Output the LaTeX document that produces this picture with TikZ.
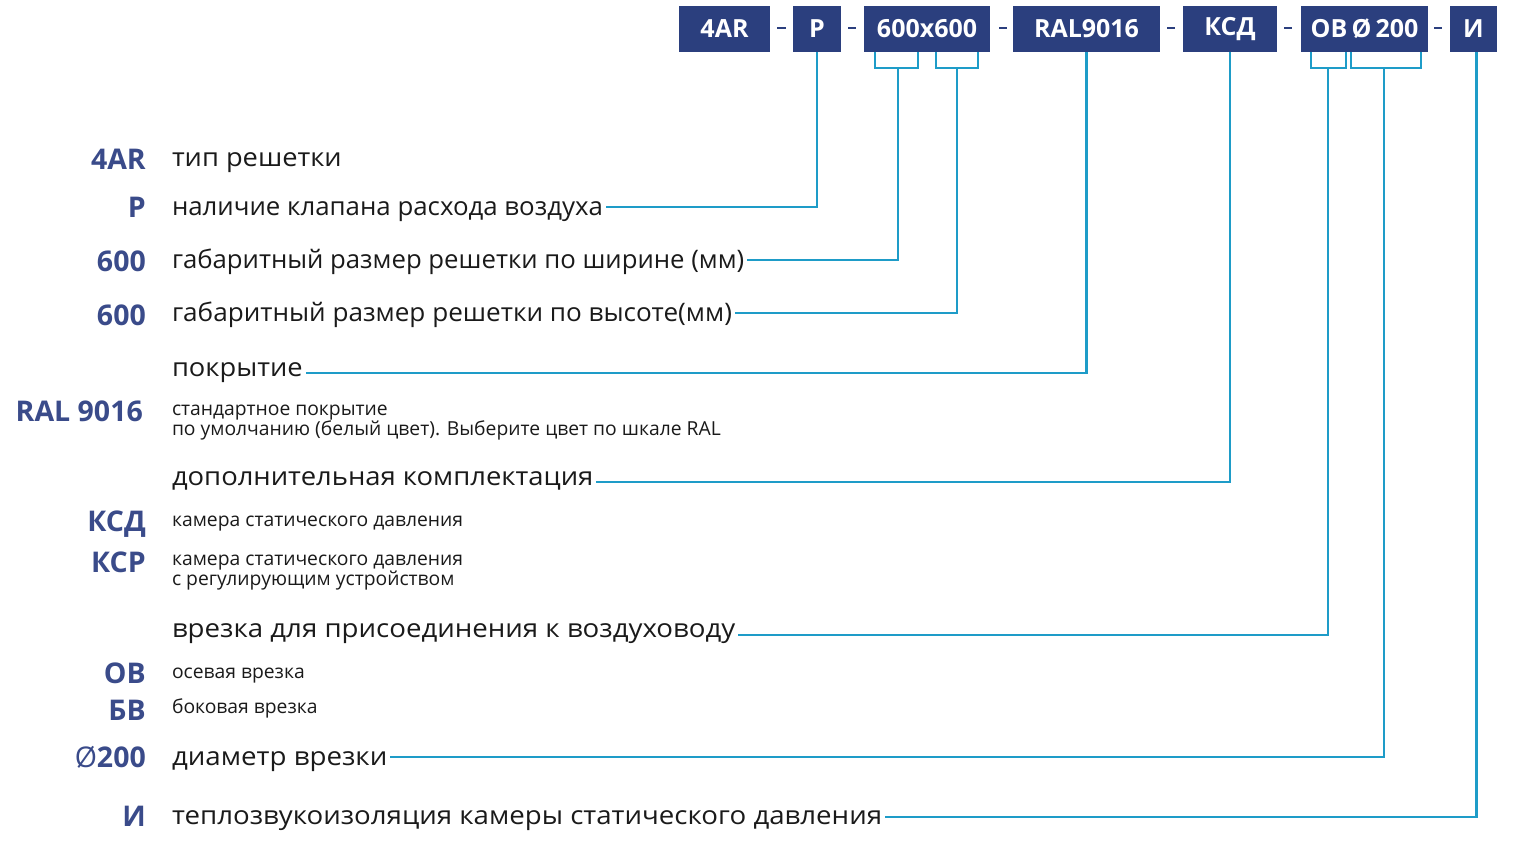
\documentclass[tikz,border=0pt]{standalone}
\usepackage{fontspec}
\usepackage{graphicx}
\setmainfont{Open Sans}
\definecolor{navy}{HTML}{2B3F7E}
\definecolor{codec}{HTML}{3A4B8A}
\definecolor{conn}{HTML}{1E9CC8}
\definecolor{txt}{HTML}{1A1A1A}
\newcommand{\xstr}[2]{\scalebox{#1}[1]{#2}}
\begin{document}
\begin{tikzpicture}[x=1pt,y=-1pt,
  codebox/.style={fill=navy, text=white, font=\bfseries\fontsize{25}{28}\selectfont,
    minimum height=46, inner sep=0, anchor=north west, outer sep=0},
  dashmark/.style={navy, line width=2.5},
  connline/.style={conn, line width=2.8},
  lcode/.style={text=codec, font=\bfseries\fontsize{28.5}{32}\selectfont, anchor=east,
    inner sep=0, text height=20.3pt, text depth=0pt},
  bigdesc/.style={text=txt, font=\fontsize{25.5}{30}\selectfont, anchor=west,
    inner xsep=3, inner ysep=0, text height=17.6pt, text depth=0pt, outer sep=0},
  smalldesc/.style={text=txt, font=\fontsize{19.3}{22}\selectfont, anchor=west,
    inner xsep=3, inner ysep=0, text height=14.2pt, text depth=0pt, outer sep=0}]
\useasboundingbox (0,0) rectangle (1536,855);
\fill[white] (0,0) rectangle (1536,855);

% top code boxes
\node[codebox, minimum width=91] (b1) at (679,6) {4AR};
\node[codebox, minimum width=48] (b2) at (793,6) {Р};
\node[codebox, minimum width=126] (b3) at (864,6) {600x600};
\node[codebox, minimum width=147] (b4) at (1013,6) {RAL9016};
\node[codebox, minimum width=94] (b5) at (1183,6) {КСД};
\node[codebox, minimum width=127] (b6) at (1301,6) {ОВ\,Ø\,200};
\node[codebox, minimum width=47] (b7) at (1450,6) {И};

% dashes
\draw[dashmark] (777,28) -- (786,28);
\draw[dashmark] (848,28) -- (856,28);
\draw[dashmark] (999,28) -- (1007,28);
\draw[dashmark] (1167,28) -- (1175,28);
\draw[dashmark] (1284,28) -- (1292,28);
\draw[dashmark] (1434,28) -- (1442,28);

% left codes
\node[lcode] (c1) at (146,159) {4AR};
\node[lcode] (c2) at (146,207) {Р};
\node[lcode] (c3) at (146,261) {600};
\node[lcode] (c4) at (146,315) {600};
\node[lcode] (c5) at (143,411) {RAL 9016};
\node[lcode] (c6) at (146,521) {КСД};
\node[lcode] (c7) at (146,562) {КСР};
\node[lcode] (c8) at (146,673) {ОВ};
\node[lcode] (c9) at (146,710) {БВ};
\node[lcode] (c10) at (146,757) {{\mdseries Ø}200};
\node[lcode] (c11) at (146,816) {И};

% descriptions
\node[bigdesc] (dT) at (169,158) {\xstr{1.069}{тип решетки}};
\node[bigdesc] (dP) at (169,207) {\xstr{1.013}{наличие клапана расхода воздуха}};
\node[bigdesc] (dW) at (169,260) {\xstr{1.009}{габаритный размер решетки по ширине (мм)}};
\node[bigdesc] (dH) at (169,313) {\xstr{1.024}{габаритный размер решетки по высоте(мм)}};
\node[bigdesc] (dCov) at (169,368) {\xstr{1.07}{покрытие}};
\node[smalldesc] (sR1) at (169,408) {стандартное покрытие};
\node[smalldesc] (sR2) at (169,428) {по умолчанию (белый цвет). Выберите цвет по шкале RAL};
\node[bigdesc] (dAdd) at (169,477) {\xstr{1.075}{дополнительная комплектация}};
\node[smalldesc] (sK1) at (169,519) {камера статического давления};
\node[smalldesc] (sK2) at (169,558) {камера статического давления};
\node[smalldesc] (sK3) at (169,578) {с регулирующим устройством};
\node[bigdesc] (dCon) at (169,629) {\xstr{1.084}{врезка для присоединения к воздуховоду}};
\node[smalldesc] (sO1) at (169,671) {осевая врезка};
\node[smalldesc] (sO2) at (169,706) {боковая врезка};
\node[bigdesc] (dDia) at (169,757) {\xstr{1.086}{диаметр врезки}};
\node[bigdesc] (dIso) at (169,816) {\xstr{1.084}{теплозвукоизоляция камеры статического давления}};

% brackets
\coordinate (w1) at (875,52);
\coordinate (w2) at (918,52);
\coordinate (ws) at (898,68);
\coordinate (h1) at (936,52);
\coordinate (h2) at (978,52);
\coordinate (hs) at (957,68);
\coordinate (o1) at (1311,52);
\coordinate (o2) at (1346,52);
\coordinate (os) at (1328,68);
\coordinate (d1) at (1351,52);
\coordinate (d2) at (1421,52);
\coordinate (ds) at (1384,68);
\draw[connline] (w1) |- (ws) -| (w2);
\draw[connline] (h1) |- (hs) -| (h2);
\draw[connline] (o1) |- (os) -| (o2);
\draw[connline] (d1) |- (ds) -| (d2);

% connectors
\draw[connline] (b2.south) |- (dP.east);
\draw[connline] (ws) |- (dW.east);
\draw[connline] (hs) |- (dH.east);
\draw[connline] (b4.south) |- ([yshift=-5]dCov.east);
\draw[connline] (b5.south) |- ([yshift=-5]dAdd.east);
\draw[connline] (os) |- ([yshift=-6]dCon.east);
\draw[connline] (ds) |- (dDia.east);
\draw[connline] ([xshift=3]b7.south) |- ([yshift=-1]dIso.east);
\end{tikzpicture}
\end{document}
